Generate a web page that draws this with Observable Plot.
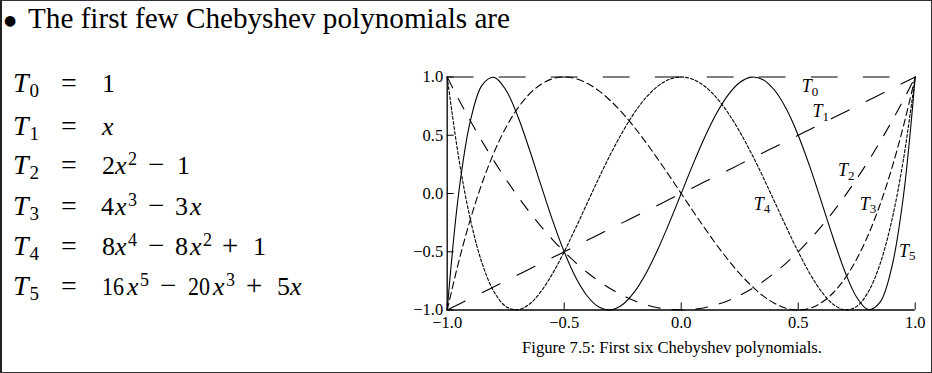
<!DOCTYPE html>
<html><head><meta charset="utf-8">
<script src="https://cdn.jsdelivr.net/npm/d3@7"></script>
<script src="https://cdn.jsdelivr.net/npm/@observablehq/plot@0.6"></script>
<style>
html,body{margin:0;padding:0;background:#fff;}
#page{position:relative;width:932px;height:373px;overflow:hidden;background:#fff;}
#frame{position:absolute;left:0;top:0;width:932px;height:373px;box-sizing:border-box;border:1px solid #333;border-left:2px solid #222;pointer-events:none;}
#slide{position:absolute;left:0;top:0;}
#chart{position:absolute;left:396px;top:64px;}
</style></head><body>
<div id="page">
<svg id="slide" width="932" height="373" font-family="Liberation Serif, serif" fill="#000"></svg>
<div id="chart"></div>
<div id="frame"></div>
</div>
<script>
// ---- chart data ----
const xs = [-1, -0.95, -0.9, -0.85, -0.8, -0.75, -0.7, -0.65, -0.6, -0.55, -0.5, -0.45, -0.4, -0.35, -0.3, -0.25, -0.2, -0.15, -0.1, -0.05, 0,
            0.05, 0.1, 0.15, 0.2, 0.25, 0.3, 0.35, 0.4, 0.45, 0.5, 0.55, 0.6, 0.65, 0.7, 0.75, 0.8, 0.85, 0.9, 0.95, 1];
const t0 = [1, 1, 1, 1, 1, 1, 1, 1, 1, 1, 1, 1, 1, 1, 1, 1, 1, 1, 1, 1, 1,
            1, 1, 1, 1, 1, 1, 1, 1, 1, 1, 1, 1, 1, 1, 1, 1, 1, 1, 1, 1];
const t1 = [-1, -0.95, -0.9, -0.85, -0.8, -0.75, -0.7, -0.65, -0.6, -0.55, -0.5, -0.45, -0.4, -0.35, -0.3, -0.25, -0.2, -0.15, -0.1, -0.05, 0,
            0.05, 0.1, 0.15, 0.2, 0.25, 0.3, 0.35, 0.4, 0.45, 0.5, 0.55, 0.6, 0.65, 0.7, 0.75, 0.8, 0.85, 0.9, 0.95, 1];
const t2 = [1, 0.805, 0.62, 0.445, 0.28, 0.125, -0.02, -0.155, -0.28, -0.395, -0.5, -0.595, -0.68, -0.755, -0.82, -0.875, -0.92, -0.955, -0.98, -0.995, -1,
            -0.995, -0.98, -0.955, -0.92, -0.875, -0.82, -0.755, -0.68, -0.595, -0.5, -0.395, -0.28, -0.155, -0.02, 0.125, 0.28, 0.445, 0.62, 0.805, 1];
const t3 = [-1, -0.58, -0.216, 0.094, 0.352, 0.563, 0.728, 0.852, 0.936, 0.985, 1, 0.986, 0.944, 0.879, 0.792, 0.688, 0.568, 0.437, 0.296, 0.15, 0,
            -0.15, -0.296, -0.437, -0.568, -0.688, -0.792, -0.879, -0.944, -0.986, -1, -0.985, -0.936, -0.852, -0.728, -0.563, -0.352, -0.094, 0.216, 0.58, 1];
const t4 = [1, 0.296, -0.231, -0.604, -0.843, -0.969, -0.999, -0.952, -0.843, -0.688, -0.5, -0.292, -0.075, 0.14, 0.345, 0.531, 0.693, 0.824, 0.921, 0.98, 1,
            0.98, 0.921, 0.824, 0.693, 0.531, 0.345, 0.14, -0.075, -0.292, -0.5, -0.688, -0.843, -0.952, -0.999, -0.969, -0.843, -0.604, -0.231, 0.296, 1];
const t5 = [-1, 0.017, 0.632, 0.933, 0.997, 0.891, 0.671, 0.386, 0.076, -0.228, -0.5, -0.723, -0.884, -0.977, -0.999, -0.953, -0.845, -0.684, -0.48, -0.248, 0,
            0.248, 0.48, 0.684, 0.845, 0.953, 0.999, 0.977, 0.884, 0.723, 0.5, 0.228, -0.076, -0.386, -0.671, -0.891, -0.997, -0.933, -0.632, -0.017, 1];
const seriesNames = ["T0", "T1", "T2", "T3", "T4", "T5"];

const xTicks = [-1, -0.5, 0, 0.5, 1];
const xTickLabels = ["\u22121.0", "\u22120.5", "0.0", "0.5", "1.0"];
const yTicks = [-1, -0.5, 0, 0.5, 1];
const yTickLabels = ["\u22121.0", "\u22120.5", "0.0", "0.5", "1.0"];

// curve labels (T with subscript), anchored at the left of the T, on its baseline
const labelSubs = ["0", "1", "2", "3", "4", "5"];
const labelX = [0.515, 0.561, 0.670, 0.763, 0.310, 0.931];
const labelY = [0.870, 0.655, 0.146, -0.140, -0.140, -0.541];

// ---- build table ----
const seriesValues = [t0, t1, t2, t3, t4, t5];
const rows = seriesNames.flatMap((name, k) => xs.map((x, i) => ({name, x, y: seriesValues[k][i]})));
const labels = labelSubs.map((s, i) => ({sub: s, x: labelX[i], y: labelY[i]}));

const dash = {T0: "26,26", T1: "20,19", T2: "12,12", T3: "7,4", T4: "3,2", T5: null};

const W = 530, H = 275, mL = 50.7, mR = 11.3, mT = 12.5, mB = 29.5;
const innerW = W - mL - mR, innerH = H - mT - mB;
const font = "Liberation Serif, serif";

const chart = Plot.plot({
  width: W, height: H,
  marginLeft: mL, marginRight: mR, marginTop: mT, marginBottom: mB,
  x: {domain: [-1, 1], label: null},
  y: {domain: [-1, 1], label: null},
  style: {fontFamily: font, fontSize: "16.5px", color: "#000", background: "transparent", overflow: "visible"},
  marks: [
    ...seriesNames.map(n => Plot.line(rows.filter(r => r.name === n), {
      x: "x", y: "y", stroke: "#000", strokeWidth: 1.1,
      strokeDasharray: dash[n], curve: "catmull-rom"
    })),
    Plot.ruleY([-1], {stroke: "#000", strokeWidth: 1.3}),
    Plot.ruleX([-1], {stroke: "#000", strokeWidth: 1.3}),
    Plot.tickX(xTicks, {x: d => d, stroke: "#000", strokeWidth: 1, insetTop: innerH - 7}),
    Plot.tickY(yTicks, {y: d => d, stroke: "#000", strokeWidth: 1, insetRight: innerW - 7}),
    Plot.axisX(xTicks, {tickSize: 0, tickPadding: 6, fontSize: 16.5, fontFamily: font, fill: "#000",
      tickFormat: d => xTickLabels[xTicks.indexOf(d)], label: null}),
    Plot.axisY(yTicks, {tickSize: 0, tickPadding: 4, fontSize: 16.5, fontFamily: font, fill: "#000",
      tickFormat: d => yTickLabels[yTicks.indexOf(d)], label: null}),
    Plot.text(labels, {x: "x", y: "y", text: () => "T", fontStyle: "italic", fontSize: 18, fontFamily: font,
      textAnchor: "start", lineAnchor: "bottom", fill: "#000"}),
    Plot.text(labels, {x: "x", y: "y", text: "sub", fontSize: 13, fontFamily: font, dx: 10, dy: 3.5,
      textAnchor: "start", lineAnchor: "bottom", fill: "#000"})
  ]
});
document.getElementById("chart").appendChild(chart);

// ---- slide text ----
const svg = d3.select("#slide");
svg.append("text").attr("x", 4).attr("y", 25).attr("font-size", 14).attr("font-family", "DejaVu Sans").text("\u25CF");
svg.append("text").attr("x", 28).attr("y", 28).attr("font-size", 29)
  .attr("textLength", 482).attr("lengthAdjust", "spacingAndGlyphs")
  .text("The first few Chebyshev polynomials are");

const baselines = [92, 135, 173.5, 215, 255, 295];
const rhs = [
  [["1", 102, "r"]],
  [["x", 102, "i"]],
  [["2", 102, "r"], ["x", 115, "i"], ["2", 128, "s"], ["\u2212", 148, "r"], ["1", 177, "r"]],
  [["4", 101, "r"], ["x", 115, "i"], ["3", 128, "s"], ["\u2212", 148, "r"], ["3", 175, "r"], ["x", 190, "i"]],
  [["8", 102, "r"], ["x", 115, "i"], ["4", 128, "s"], ["\u2212", 148, "r"], ["8", 175, "r"], ["x", 190, "i"], ["2", 203, "s"], ["+", 222, "r"], ["1", 253, "r"]],
  [["16", 102, "r"], ["x", 127, "i"], ["5", 140, "s"], ["\u2212", 160, "r"], ["20", 188, "r"], ["x", 213, "i"], ["3", 226, "s"], ["+", 246, "r"], ["5", 277, "r"], ["x", 290, "i"]]
];
baselines.forEach((b, k) => {
  svg.append("text").attr("x", 13).attr("y", b).attr("font-size", 28).attr("font-style", "italic").text("T");
  svg.append("text").attr("x", 29.5).attr("y", b + 5).attr("font-size", 19).text(String(k));
  svg.append("text").attr("x", 61).attr("y", b).attr("font-size", 28).text("=");
  rhs[k].forEach(([t, x, kind]) => {
    const el = svg.append("text").attr("x", x).text(t);
    if (kind === "s") el.attr("y", b - 9).attr("font-size", 18);
    else {
      el.attr("y", b).attr("font-size", 26).attr("font-style", kind === "i" ? "italic" : "normal");
      if (t.length === 2) el.attr("textLength", 22).attr("lengthAdjust", "spacingAndGlyphs");
      if (t === "\u2212" || t === "+") el.attr("font-size", 29);
    }
  });
});

svg.append("text").attr("x", 672).attr("y", 353).attr("font-size", 16.4).attr("text-anchor", "middle")
  .attr("textLength", 300).attr("lengthAdjust", "spacingAndGlyphs")
  .text("Figure 7.5: First six Chebyshev polynomials.");
</script>
</body></html>
